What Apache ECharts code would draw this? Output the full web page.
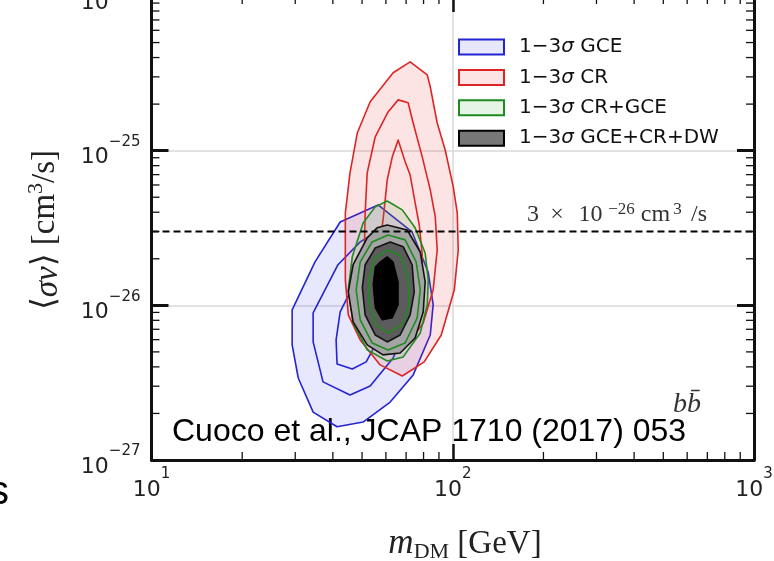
<!DOCTYPE html>
<html>
<head>
<meta charset="utf-8">
<script src="https://cdn.jsdelivr.net/npm/echarts@6/dist/echarts.min.js"></script>
<style>
html, body { margin: 0; padding: 0; background: #ffffff; overflow: hidden; }
#wrap { position: relative; width: 774px; height: 561px; overflow: hidden; }
/* the plot frame's top edge sits just above the visible area */
#chart { position: absolute; left: 0; top: -4px; width: 774px; height: 565px; }
</style>
</head>
<body>
<div id="wrap"><div id="chart"></div></div>
<script>
// Axis ranges, tick labels and reference line
const massRange = [10, 1000];            // m_DM in GeV
const sigmaVRange = [1e-27, 1e-24];      // <sigma v> in cm^3/s
const xTickValues = [10, 100, 1000];
const yTickValues = [1e-27, 1e-26, 1e-25, 1e-24];
const thermalSigmaV = 3e-26;

const seriesNames = ['1−3σ GCE', '1−3σ CR', '1−3σ CR+GCE', '1−3σ GCE+CR+DW'];

// Contours, points as [m_DM (GeV), <sigma v> (cm^3/s)]
// Galactic centre excess
const gce3 = [[56.5,4.46e-26],[73.3,2.98e-26],[82.9,1.64e-26],[86.1,1.01e-26],[84.2,6.43e-27],[73.9,3.55e-27],[62.0,2.37e-27],[50.4,1.76e-27],[41.3,1.64e-27],[34.4,2.04e-27],[30.7,3.39e-27],[29.3,5.55e-27],[29.3,9.34e-27],[34.9,1.91e-26],[42.3,3.46e-26]];
const gce2 = [[52.4,2.77e-26],[49.3,2.57e-26],[41.6,1.83e-26],[34.4,8.93e-27],[34.4,5.80e-27],[37.1,3.20e-27],[45.6,2.63e-27],[53.2,3.01e-27],[63.4,4.57e-27],[72.2,8.04e-27],[74.5,1.46e-26],[69.5,2.28e-26],[59.7,2.77e-26]];
const gce1 = [[46.4,1.30e-26],[42.3,9.07e-27],[41.0,5.97e-27],[41.3,4.18e-27],[46.4,3.88e-27],[51.6,4.31e-27],[56.5,5.97e-27],[58.3,1.08e-26],[52.4,1.38e-26]];

// Cosmic-ray antiprotons
const cr3 = [[72.2,3.75e-25],[82.3,3.09e-25],[84.2,2.59e-25],[88.8,1.51e-25],[94.4,1.01e-25],[100.4,5.83e-26],[103.5,3.96e-26],[104.3,2.28e-26],[101.2,1.26e-26],[91.6,6.43e-27],[80.4,4.31e-27],[68.0,3.49e-27],[57.4,4.12e-27],[49.3,5.97e-27],[45.0,8.67e-27],[44.0,1.46e-26],[44.0,2.65e-26],[44.0,3.96e-26],[45.6,7.18e-26],[48.2,1.30e-25],[53.2,2.07e-25],[63.4,3.19e-25]];
const cr2 = [[65.9,2.13e-25],[71.1,2.04e-25],[73.9,1.51e-25],[79.2,9.12e-26],[84.2,5.58e-26],[87.5,3.73e-26],[88.8,2.28e-26],[86.1,1.26e-26],[79.8,7.69e-27],[70.6,5.55e-27],[63.0,5.00e-27],[56.1,5.80e-27],[52.0,9.34e-27],[50.8,1.97e-26],[51.2,3.96e-26],[52.0,7.18e-26],[55.3,1.23e-25],[61.0,1.78e-25]];
const cr1 = [[65.9,1.17e-25],[69.5,8.47e-26],[72.2,6.97e-26],[74.5,4.95e-26],[77.4,3.31e-26],[79.2,2.12e-26],[78.6,1.26e-26],[73.3,8.04e-27],[65.9,6.93e-27],[59.7,8.29e-27],[57.4,1.36e-26],[57.4,2.46e-26],[59.2,4.14e-26],[60.6,6.47e-26],[63.0,9.12e-26]];

// Cosmic rays + GCE combined
const crgce3 = [[60.6,4.73e-26],[68.0,4.14e-26],[75.0,3.17e-26],[81.0,2.18e-26],[82.9,1.46e-26],[82.3,1.01e-26],[78.0,6.63e-27],[68.5,4.64e-27],[60.6,4.37e-27],[52.0,5.15e-27],[46.7,7.69e-27],[45.0,1.26e-26],[46.4,2.06e-26],[50.4,3.41e-26],[55.3,4.33e-26]];
const crgce2 = [[61.0,2.85e-26],[69.5,2.65e-26],[75.6,1.91e-26],[78.0,1.26e-26],[76.2,8.29e-27],[69.5,5.71e-27],[61.0,5.15e-27],[54.0,5.71e-27],[49.3,8.04e-27],[47.8,1.26e-26],[49.3,1.91e-26],[54.0,2.57e-26]];
const crgce1 = [[61.0,2.28e-26],[66.9,2.09e-26],[71.1,1.50e-26],[71.7,1.01e-26],[68.0,7.47e-27],[61.0,6.63e-27],[55.7,7.47e-27],[52.8,1.04e-26],[52.8,1.50e-26],[55.3,2.03e-26]];

// GCE + CR + dwarf galaxies
const all3 = [[60.6,3.31e-26],[70.6,3.07e-26],[78.0,2.21e-26],[81.0,1.42e-26],[79.8,9.07e-27],[75.0,6.15e-27],[66.9,4.92e-27],[58.7,4.78e-27],[52.0,5.55e-27],[46.7,7.81e-27],[45.0,1.22e-26],[46.7,1.83e-26],[52.0,2.73e-26],[56.1,3.17e-26]];
const all2 = [[62.0,2.57e-26],[68.5,2.39e-26],[73.3,1.83e-26],[74.5,1.22e-26],[72.2,8.67e-27],[66.9,6.43e-27],[60.6,5.80e-27],[55.3,6.43e-27],[51.2,8.67e-27],[50.1,1.30e-26],[51.2,1.83e-26],[55.3,2.35e-26]];
const all1 = [[60.6,2.06e-26],[63.4,1.91e-26],[65.9,1.42e-26],[65.9,1.01e-26],[63.0,8.29e-27],[58.3,8.04e-27],[55.3,9.62e-27],[54.4,1.36e-26],[55.3,1.77e-26],[57.4,1.91e-26]];

// Colours
const BLUE = '#2424d2', RED = '#de2525', GREEN = '#1f8a1f';
const BLUE_FILL = 'rgba(60,60,235,0.12)';
const RED_FILL = 'rgba(240,50,50,0.13)';
const GREEN_FILL = 'rgba(70,180,70,0.14)';

// Log minor tick positions (2..9 per decade)
const minorX = [];
for (const d of [10, 100]) for (let k = 2; k <= 9; k++) minorX.push(k * d);
const minorY = [];
for (const d of [1e-27, 1e-26, 1e-25]) for (let k = 2; k <= 9; k++) minorY.push(k * d);

const chart = echarts.init(document.getElementById('chart'), null, { renderer: 'canvas' });

function region(name, pts, fill, stroke, width, z) {
  return {
    type: 'custom',
    name: name,
    coordinateSystem: 'cartesian2d',
    silent: true,
    z: z,
    data: pts,
    encode: { x: 0, y: 1 },
    renderItem: function (params, api) {
      if (params.dataIndex !== 0) return null;
      return {
        type: 'polygon',
        shape: { points: pts.map(function (p) { return api.coord(p); }) },
        style: { fill: fill || 'none', stroke: stroke, lineWidth: width, lineJoin: 'round' }
      };
    }
  };
}

// "10" with the exponent as a superscript
function powLabel(v) {
  const e = Math.round(Math.log10(v));
  return '{base|10}{sup|' + (e < 0 ? '−' + (-e) : e) + '}';
}

const tickLabelRich = {
  base: { fontFamily: 'DejaVu Sans', fontSize: 22, fill: '#222', verticalAlign: 'bottom', lineHeight: 34 },
  sup: { fontFamily: 'DejaVu Sans', fontSize: 15, fill: '#222', verticalAlign: 'top', lineHeight: 6 }
};

const axisLineStyle = { color: '#111', width: 3 };
const SERIF = "'Liberation Serif', 'DejaVu Serif', serif";

function frameAxis(kind, pos, range) {
  return {
    type: 'log', logBase: 10, min: range[0], max: range[1], position: pos,
    axisLine: { show: true, onZero: false, lineStyle: axisLineStyle },
    axisTick: { show: true, inside: true, length: kind === 'x' ? 16 : 17, lineStyle: { color: '#111', width: kind === 'x' ? 2.5 : 3 } },
    axisLabel: { show: false },
    splitLine: { show: pos === 'bottom' || pos === 'left', lineStyle: { color: '#d9d9d9', width: 1.5 } }
  };
}

const option = {
  animation: false,
  backgroundColor: '#ffffff',
  grid: { left: 151.5, right: 20, top: 0, bottom: 101, outerBoundsMode: 'none' },
  xAxis: [frameAxis('x', 'bottom', massRange), frameAxis('x', 'top', massRange)],
  yAxis: [frameAxis('y', 'left', sigmaVRange), frameAxis('y', 'right', sigmaVRange)],
  legend: {
    orient: 'vertical',
    left: 458,
    top: 41,
    padding: 0,
    itemWidth: 45,
    itemHeight: 15,
    itemGap: 10.4,
    icon: 'rect',
    selectedMode: false,
    formatter: function (n) { return n.replace('σ', '{i|σ}'); },
    textStyle: {
      fontFamily: 'DejaVu Sans', fontSize: 20, color: '#111', lineHeight: 15, padding: [0, 0, 0, 10],
      rich: { i: { fontFamily: 'DejaVu Sans', fontStyle: 'italic', fontSize: 20, color: '#111', lineHeight: 15 } }
    },
    data: [
      { name: seriesNames[0], itemStyle: { color: 'rgba(60,60,235,0.12)', borderColor: BLUE, borderWidth: 2 } },
      { name: seriesNames[1], itemStyle: { color: 'rgba(240,50,50,0.13)', borderColor: RED, borderWidth: 2 } },
      { name: seriesNames[2], itemStyle: { color: 'rgba(70,180,70,0.14)', borderColor: GREEN, borderWidth: 2 } },
      { name: seriesNames[3], itemStyle: { color: '#777777', borderColor: '#000', borderWidth: 2 } }
    ]
  },
  series: [
    region(seriesNames[0], gce3, BLUE_FILL, BLUE, 1.6, 2),
    region(seriesNames[0], gce2, null, BLUE, 1.6, 2),
    region(seriesNames[0], gce1, null, BLUE, 1.6, 2),
    region(seriesNames[1], cr3, RED_FILL, RED, 1.6, 2),
    region(seriesNames[1], cr2, null, RED, 1.6, 2),
    region(seriesNames[1], cr1, null, RED, 1.6, 2),
    region(seriesNames[2], crgce3, GREEN_FILL, GREEN, 1.6, 2),
    region(seriesNames[3], all3, '#a4a4a4', '#111', 1.6, 2),
    region(seriesNames[3], all2, '#5c5c5c', '#111', 1.6, 2),
    region(seriesNames[3], all1, '#000000', '#000', 1.2, 2),
    region(seriesNames[2], crgce2, null, GREEN, 1.6, 2),
    region(seriesNames[2], crgce1, null, GREEN, 1.6, 2),
    {
      type: 'line',
      silent: true,
      z: 3,
      symbol: 'none',
      data: [[massRange[0], thermalSigmaV], [massRange[1], thermalSigmaV]],
      lineStyle: { color: '#000', width: 2, type: [7, 4] }
    },
    {
      // minor ticks on the bottom and top axes
      type: 'custom', silent: true, z: 5,
      data: minorX.map(function (v) { return [v, sigmaVRange[0]]; }),
      encode: { x: 0, y: 1 },
      renderItem: function (params, api) {
        const v = api.value(0);
        const b = api.coord([v, sigmaVRange[0]]);
        const t = api.coord([v, sigmaVRange[1]]);
        const st = { stroke: '#111', lineWidth: 1.3 };
        return { type: 'group', children: [
          { type: 'line', shape: { x1: b[0], y1: b[1], x2: b[0], y2: b[1] - 8 }, style: st },
          { type: 'line', shape: { x1: t[0], y1: t[1], x2: t[0], y2: t[1] + 8 }, style: st }
        ] };
      }
    },
    {
      // minor ticks on the left and right axes
      type: 'custom', silent: true, z: 5,
      data: minorY.map(function (v) { return [massRange[0], v]; }),
      encode: { x: 0, y: 1 },
      renderItem: function (params, api) {
        const v = api.value(1);
        const l = api.coord([massRange[0], v]);
        const r = api.coord([massRange[1], v]);
        const st = { stroke: '#111', lineWidth: 1.3 };
        return { type: 'group', children: [
          { type: 'line', shape: { x1: l[0], y1: l[1], x2: l[0] + 8, y2: l[1] }, style: st },
          { type: 'line', shape: { x1: r[0], y1: r[1], x2: r[0] - 8, y2: r[1] }, style: st }
        ] };
      }
    },
    {
      // decade labels under the mass axis
      type: 'custom', silent: true, z: 6, clip: false,
      data: xTickValues.map(function (v) { return [v, sigmaVRange[0]]; }),
      encode: { x: 0, y: 1 },
      renderItem: function (params, api) {
        const v = api.value(0);
        const c = api.coord([v, sigmaVRange[0]]);
        return {
          type: 'text', x: c[0], y: c[1] + 7,
          style: { text: powLabel(v), align: 'center', verticalAlign: 'top', fontFamily: 'DejaVu Sans', fontSize: 22, fill: '#222', rich: tickLabelRich }
        };
      }
    },
    {
      // decade labels left of the cross-section axis
      type: 'custom', silent: true, z: 6, clip: false,
      data: yTickValues.map(function (v) { return [massRange[0], v]; }),
      encode: { x: 0, y: 1 },
      renderItem: function (params, api) {
        const v = api.value(1);
        const c = api.coord([massRange[0], v]);
        return {
          type: 'text', x: c[0] - 11, y: c[1] + 1,
          style: { text: powLabel(v), align: 'right', verticalAlign: 'middle', fontFamily: 'DejaVu Sans', fontSize: 22, fill: '#222', rich: tickLabelRich }
        };
      }
    }
  ],
  graphic: [
    {
      type: 'text', x: 45, y: 234, rotation: Math.PI / 2, silent: true,
      style: {
        text: '⟨{i|σv}⟩ [cm{s|3}/s]',
        align: 'center', verticalAlign: 'middle',
        fontFamily: SERIF, fontSize: 33, fill: '#222', lineHeight: 40,
        rich: {
          i: { fontFamily: SERIF, fontStyle: 'italic', fontSize: 33, fill: '#222', verticalAlign: 'bottom', lineHeight: 40 },
          s: { fontFamily: SERIF, fontSize: 22, fill: '#222', verticalAlign: 'top', lineHeight: 20 }
        }
      }
    },
    {
      type: 'text', x: 465, y: 548, silent: true,
      style: {
        text: '{i|m}{d|DM} [GeV]',
        align: 'center', verticalAlign: 'middle',
        fontFamily: SERIF, fontSize: 33, fill: '#222', lineHeight: 38,
        rich: {
          i: { fontFamily: SERIF, fontStyle: 'italic', fontSize: 35, fill: '#222', lineHeight: 38 },
          d: { fontFamily: SERIF, fontSize: 22, fill: '#222', verticalAlign: 'bottom', lineHeight: 28 }
        }
      }
    },
    {
      type: 'text', x: 527, y: 218, silent: true,
      style: {
        text: '{n|3}{x|×}{t|10}{e|−26}{c|cm}{p|3}{s|/s}',
        align: 'left', verticalAlign: 'middle',
        fontFamily: SERIF, fontSize: 24, fill: '#333',
        rich: {
          n: { fontFamily: SERIF, fontSize: 24, fill: '#333', width: 11, lineHeight: 26, verticalAlign: 'bottom' },
          x: { fontFamily: SERIF, fontSize: 24, fill: '#333', width: 38, align: 'center', lineHeight: 26, verticalAlign: 'bottom' },
          t: { fontFamily: SERIF, fontSize: 24, fill: '#333', width: 29, align: 'center', lineHeight: 26, verticalAlign: 'bottom' },
          e: { fontFamily: SERIF, fontSize: 17, fill: '#333', width: 33, align: 'center', lineHeight: 12, verticalAlign: 'top' },
          c: { fontFamily: SERIF, fontSize: 24, fill: '#333', width: 35, align: 'center', lineHeight: 26, verticalAlign: 'bottom' },
          p: { fontFamily: SERIF, fontSize: 17, fill: '#333', width: 9, align: 'left', lineHeight: 12, verticalAlign: 'top' },
          s: { fontFamily: SERIF, fontSize: 24, fill: '#333', width: 34, align: 'left', lineHeight: 26, verticalAlign: 'bottom' }
        }
      }
    },
    {
      type: 'text', x: 687, y: 409, silent: true,
      style: {
        text: 'bb\u0304', align: 'center', verticalAlign: 'middle',
        fontFamily: SERIF, fontStyle: 'italic', fontSize: 28, fill: '#333'
      }
    },
    {
      type: 'text', x: 172, y: 436, silent: true,
      style: {
        text: 'Cuoco et al., JCAP 1710 (2017) 053', align: 'left', verticalAlign: 'middle',
        fontFamily: "'Liberation Sans', Arial, sans-serif", fontSize: 32, fill: '#000'
      }
    },
    {
      type: 'text', x: -11, y: 497, silent: true,
      style: {
        text: 's', align: 'left', verticalAlign: 'middle',
        fontFamily: "'Liberation Sans', Arial, sans-serif", fontSize: 40, fill: '#000'
      }
    }
  ]
};

chart.setOption(option);
</script>
</body>
</html>
